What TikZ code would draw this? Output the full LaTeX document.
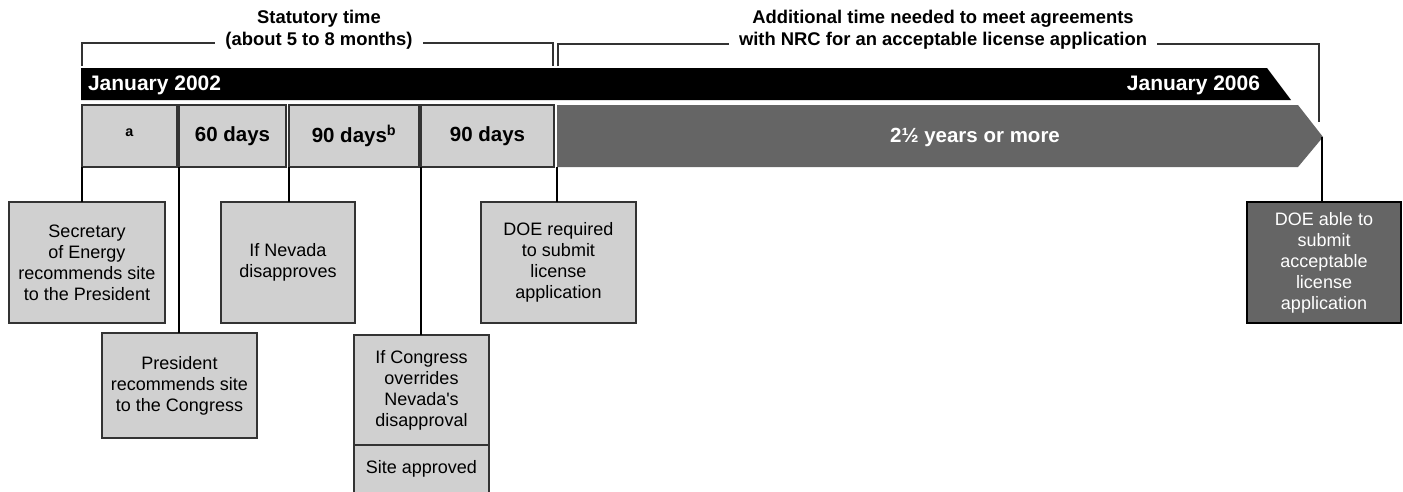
\documentclass[tikz,border=0pt]{standalone}
\usepackage{fontspec}
\setmainfont{Liberation Sans}
\newcommand*{\titlefont}{\fontsize{18.4}{22}\bfseries\selectfont}
\newcommand*{\datefont}{\fontsize{21}{24}\bfseries\selectfont}
\newcommand*{\slotfont}{\fontsize{20.5}{24}\bfseries\selectfont}
\newcommand*{\eventfont}{\fontsize{18}{21}\selectfont}
\definecolor{boxgrey}{HTML}{D0D0D0}
\definecolor{darkgrey}{HTML}{656565}
\definecolor{edge}{HTML}{333333}
\usepackage{tikz}
\usetikzlibrary{positioning}
\tikzstyle{base}=[x=1pt, y=-1pt, inner sep=0pt, outer sep=0pt]
\tikzstyle{slot}=[draw=edge, line width=1.2pt, fill=boxgrey, anchor=north west, minimum height=62, font=\slotfont]
\tikzstyle{event}=[draw=edge, line width=1.2pt, fill=boxgrey, anchor=north west, align=center, font=\eventfont]
\tikzstyle{heading}=[fill=white, inner xsep=10pt, align=center, font=\titlefont]
\tikzstyle{link}=[black, line width=2pt]
\tikzstyle{brace}=[edge, line width=1.3pt]

\begin{document}
\begin{tikzpicture}[base]
    \useasboundingbox (0,0) rectangle (1403,491);
    \draw [brace] (82,66) -- (82,43) -- (553,43) -- (553,66);
    \draw [brace] (558,66) -- (558,44) -- (1319,44) -- (1319,122);
    \node [heading] (statutory) at (319,30) {Statutory time\\(about 5 to 8 months)};
    \node [heading] (additional) at (943,30) {Additional time needed to meet agreements\\with NRC for an acceptable license application};
    \fill [black] (81,68) -- (1267,68) -- (1291,100) -- (81,100) -- cycle;
    \node [anchor=west, text=white, font=\datefont] (start) at (88,85) {January 2002};
    \node [anchor=east, text=white, font=\datefont] (finish) at (1260,85) {January 2006};
    \node [slot, minimum width=95] (slotA) at (82,105) {\vphantom{0}\textsuperscript{a}};
    \node [slot, minimum width=107] (slotB) at (179,105) {60 days};
    \node [slot, minimum width=130] (slotC) at (289,105) {90 days\textsuperscript{b}};
    \node [slot, minimum width=133] (slotD) at (421,105) {90 days};
    \fill [darkgrey] (557,105) -- (1298,105) -- (1323,137) -- (1298,167) -- (557,167) -- cycle;
    \coordinate (tail) at (557,167);
    \coordinate (tip) at (1322,137);
    \node [text=white, font=\slotfont] (span) at (975,137) {2½ years or more};
    \node [event, minimum width=156, minimum height=121] (secy) at (9,202) {Secretary\\of Energy\\recommends site\\to the President};
    \node [event, minimum width=155, minimum height=105] (pres) at (102,333) {President\\recommends site\\to the Congress};
    \node [event, minimum width=134, minimum height=121] (nevada) at (221,202) {If Nevada\\disapproves};
    \node [event, minimum width=135, minimum height=110] (congress) at (354,335) {If Congress\\overrides\\Nevada\textquotesingle s\\disapproval};
    \node [event, minimum width=135, minimum height=56, below=0pt of congress] (approved) {Site approved\\[-9pt]};
    \node [event, minimum width=155, minimum height=121] (doereq) at (481,202) {DOE required\\to submit\\license\\application};
    \node [event, minimum width=154, minimum height=121, fill=darkgrey, draw=black, text=white] (able) at (1247,202) {DOE able to\\submit\\acceptable\\license\\application};
    \draw [link] (slotA.south west) -- (slotA.south west |- secy.north);
    \draw [link] (slotB.south west) -- (slotB.south west |- pres.north);
    \draw [link] (slotC.south west) -- (slotC.south west |- nevada.north);
    \draw [link] (slotD.south west) -- (slotD.south west |- congress.north);
    \draw [link] (tail) -- (tail |- doereq.north);
    \draw [link] (tip) -- (tip |- able.north);
\end{tikzpicture}
\end{document}
